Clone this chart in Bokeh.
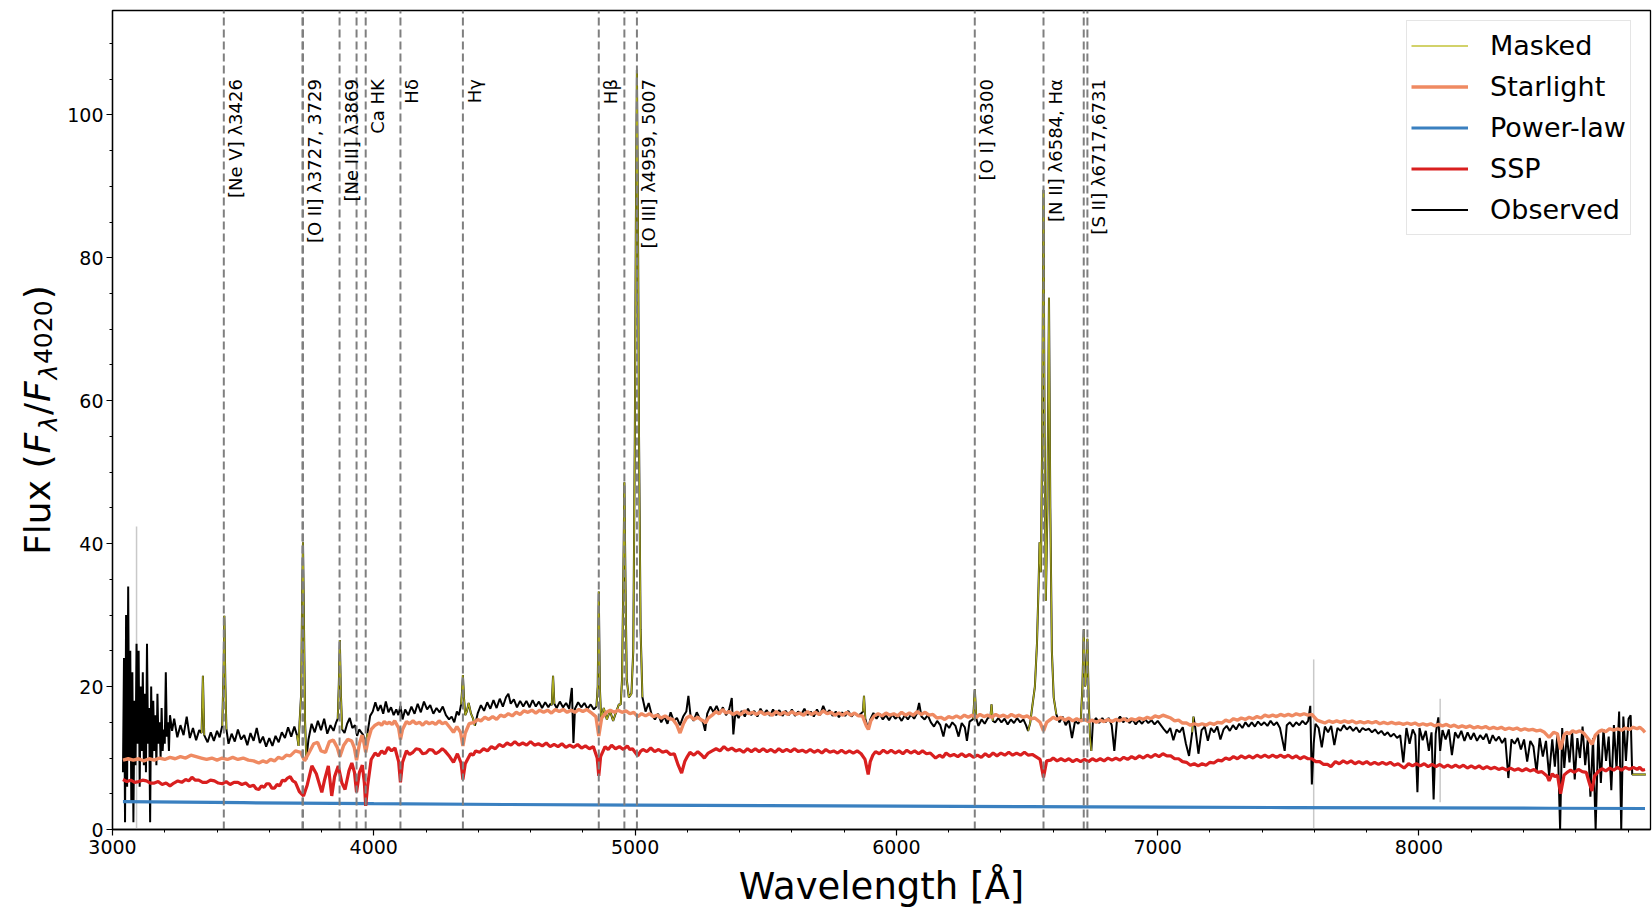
import math
from bokeh.plotting import figure
from bokeh.layouts import row
from bokeh.models import (ColumnDataSource, Legend, LegendItem, SingleIntervalTicker, Range1d)
from bokeh.core.properties import value
from bokeh.embed import file_html
from bokeh.resources import INLINE

# ---------------- data ----------------
observed = [
    (3040, 8.0), (3044, 24.0), (3048, 1.0), (3052, 30.0), (3056, 6.0), (3060, 34.0), (3064, 10.0),
    (3068, 25.0), (3072, 4.0), (3076, 22.0), (3080, 1.0), (3084, 18.0), (3088, 9.0), (3092, 26.0),
    (3096, 12.0), (3100, 25.0), (3104, 6.0), (3108, 20.0), (3112, 11.0), (3116, 22.0), (3120, 9.0),
    (3124, 19.0), (3128, 8.0), (3132, 26.0), (3136, 12.0), (3140, 17.0), (3144, 1.0), (3148, 20.0),
    (3152, 10.0), (3156, 18.0), (3160, 11.0), (3164, 16.0), (3168, 9.0), (3172, 19.0), (3176, 12.0),
    (3180, 15.0), (3184, 10.0), (3188, 17.0), (3192, 11.0), (3196, 14.0), (3200, 12.0), (3204, 22.0),
    (3208, 13.0), (3212, 15.0), (3216, 11.0), (3220, 16.0),
    (3228, 13.8), (3236, 15.5), (3248, 12.9), (3260, 14.6), (3272, 13.2), (3284, 15.8), (3296, 12.8),
    (3308, 14.2), (3320, 12.5), (3332, 13.9), (3341, 13.5), (3346, 21.5), (3351, 13.2), (3364, 12.2),
    (3376, 13.6), (3388, 12.4), (3400, 13.8), (3410, 12.9), (3420, 14.5), (3425, 22.0), (3428, 29.9),
    (3432, 20.0), (3436, 14.0), (3444, 12.0), (3456, 13.4), (3468, 12.3), (3480, 14.0), (3492, 12.6),
    (3504, 13.2), (3516, 11.8), (3528, 13.5), (3540, 12.4), (3552, 14.2), (3564, 12.1), (3576, 13.0),
    (3588, 11.6), (3600, 12.8), (3612, 11.7), (3624, 13.1), (3636, 12.2), (3648, 13.6), (3660, 12.8),
    (3672, 14.3), (3684, 13.0), (3696, 14.4), (3706, 13.2), (3712, 11.7), (3716, 15.0), (3722, 19.0),
    (3726, 33.0), (3729, 40.2), (3733, 28.0), (3737, 15.0), (3742, 9.8), (3750, 12.6), (3762, 14.8),
    (3774, 13.6), (3786, 15.2), (3798, 13.9), (3810, 15.5), (3822, 13.4), (3834, 14.6), (3846, 13.8),
    (3856, 15.0), (3862, 15.5), (3866, 20.0), (3870, 26.5), (3874, 19.0), (3879, 14.0), (3888, 13.5),
    (3898, 14.8), (3908, 15.6), (3918, 14.2), (3928, 14.6), (3936, 13.1), (3944, 14.0), (3952, 13.6),
    (3960, 13.2), (3968, 11.7), (3976, 13.5), (3986, 15.9), (3996, 16.5), (4006, 17.8), (4016, 16.6),
    (4026, 17.4), (4036, 16.2), (4046, 17.9), (4056, 16.4), (4066, 17.1), (4076, 16.0), (4086, 16.8),
    (4094, 16.0), (4102, 17.3), (4110, 15.4), (4120, 16.8), (4132, 16.0), (4144, 17.2), (4156, 16.2),
    (4168, 17.6), (4180, 16.4), (4192, 17.9), (4204, 16.8), (4216, 17.4), (4228, 16.2), (4240, 17.0),
    (4252, 16.4), (4264, 17.2), (4276, 16.0), (4288, 15.4), (4298, 15.8), (4308, 15.0), (4318, 16.5),
    (4326, 16.0), (4334, 17.5), (4338, 19.5), (4341, 21.6), (4345, 18.5), (4350, 16.0), (4356, 16.5),
    (4363, 17.7), (4372, 16.2), (4380, 15.5), (4387, 14.5), (4398, 16.3), (4410, 17.4), (4422, 16.6),
    (4434, 17.8), (4446, 16.9), (4458, 18.1), (4470, 17.0), (4482, 18.3), (4494, 17.2), (4506, 18.5),
    (4515, 19.0), (4524, 17.6), (4536, 18.2), (4548, 17.1), (4560, 18.0), (4572, 17.2), (4584, 18.0),
    (4596, 17.1), (4608, 18.1), (4620, 17.2), (4632, 17.9), (4644, 17.0), (4656, 17.8), (4668, 17.1),
    (4676, 17.6), (4681, 17.4), (4686, 21.5), (4691, 17.6), (4700, 17.0), (4712, 17.9), (4724, 17.1),
    (4736, 17.7), (4748, 16.9), (4758, 19.8), (4764, 12.1), (4770, 16.9), (4782, 17.8), (4794, 17.1),
    (4806, 17.7), (4818, 16.9), (4830, 17.5), (4842, 16.8), (4852, 17.2), (4857, 20.0), (4861, 33.3),
    (4865, 20.0), (4870, 15.5), (4880, 17.0), (4892, 15.4), (4904, 16.6), (4916, 15.2), (4928, 16.5),
    (4938, 17.5), (4945, 17.5), (4950, 21.0), (4955, 35.0), (4959, 48.6), (4963, 35.0), (4968, 21.0),
    (4976, 18.5), (4986, 19.0), (4993, 25.0), (4999, 55.0), (5003, 85.0), (5007, 106.3), (5011, 85.0),
    (5015, 55.0), (5021, 28.0), (5028, 18.5), (5040, 16.5), (5052, 17.7), (5064, 16.0), (5076, 15.4),
    (5088, 16.2), (5100, 15.0), (5112, 15.8), (5124, 14.8), (5136, 16.4), (5148, 15.2), (5160, 15.6),
    (5172, 14.6), (5184, 15.8), (5196, 16.5), (5204, 18.7), (5212, 16.0), (5224, 15.2), (5236, 16.4),
    (5248, 15.5), (5260, 15.0), (5268, 13.8), (5276, 16.2), (5288, 17.2), (5300, 16.4), (5312, 17.3),
    (5324, 16.2), (5336, 17.1), (5348, 16.0), (5360, 16.8), (5370, 18.4), (5376, 13.3), (5384, 16.4),
    (5396, 15.6), (5408, 16.6), (5420, 15.8), (5432, 16.9), (5444, 16.0), (5456, 16.6), (5468, 15.8),
    (5480, 16.9), (5492, 16.1), (5504, 16.7), (5516, 15.9), (5528, 16.8), (5540, 16.0), (5552, 16.7),
    (5564, 15.9), (5576, 16.6), (5588, 16.0), (5600, 16.8), (5612, 15.9), (5624, 16.5), (5636, 16.1),
    (5648, 16.9), (5660, 16.0), (5672, 16.5), (5684, 15.8), (5696, 16.8), (5708, 16.0), (5720, 17.3),
    (5732, 16.2), (5744, 16.7), (5756, 15.9), (5768, 16.5), (5780, 15.7), (5792, 16.4), (5804, 15.9),
    (5816, 16.6), (5828, 15.8), (5840, 16.3), (5852, 15.9), (5864, 16.2), (5872, 16.5), (5876, 18.7),
    (5881, 15.5), (5892, 14.0), (5900, 15.4), (5912, 16.3), (5924, 15.5), (5936, 16.2), (5948, 15.4),
    (5960, 16.0), (5972, 15.3), (5984, 16.1), (5996, 15.5), (6008, 15.9), (6020, 15.2), (6032, 16.0),
    (6044, 15.4), (6056, 16.1), (6068, 15.5), (6078, 16.2), (6087, 17.7), (6096, 15.8), (6108, 15.4),
    (6120, 16.0), (6132, 15.0), (6144, 14.4), (6156, 15.2), (6168, 14.6), (6180, 13.0), (6190, 14.8),
    (6202, 14.2), (6214, 15.0), (6226, 14.5), (6238, 13.0), (6250, 14.9), (6262, 14.3), (6270, 12.4),
    (6280, 15.1), (6288, 15.3), (6294, 15.5), (6300, 19.6), (6306, 15.5), (6314, 14.5), (6326, 15.4),
    (6338, 14.8), (6350, 15.6), (6360, 15.8), (6364, 17.5), (6369, 15.2), (6378, 15.0), (6390, 15.6),
    (6402, 15.0), (6414, 15.5), (6426, 14.7), (6438, 15.4), (6450, 14.9), (6462, 15.6), (6474, 15.0),
    (6486, 15.4), (6496, 14.6), (6504, 13.8), (6512, 14.9), (6520, 17.2), (6530, 20.0), (6538, 26.0),
    (6544, 34.0), (6548, 40.2), (6553, 36.0), (6558, 55.0), (6563, 89.5), (6567, 55.0), (6572, 32.0),
    (6578, 45.0), (6584, 74.4), (6589, 45.0), (6595, 25.0), (6602, 18.5), (6612, 16.1), (6624, 15.0),
    (6636, 15.8), (6648, 14.6), (6660, 15.4), (6672, 12.8), (6684, 15.2), (6696, 14.8), (6706, 15.5),
    (6712, 20.0), (6717, 28.0), (6722, 20.0), (6726, 21.0), (6731, 26.7), (6736, 18.0), (6741, 13.0),
    (6746, 11.0), (6752, 15.0), (6764, 15.6), (6776, 14.9), (6788, 15.6), (6800, 15.0), (6812, 15.6),
    (6824, 14.6), (6834, 11.0), (6844, 15.2), (6856, 15.8), (6868, 15.0), (6880, 15.6), (6892, 14.9),
    (6904, 15.4), (6916, 14.7), (6928, 15.3), (6940, 14.8), (6952, 15.4), (6964, 14.9), (6976, 15.3),
    (6988, 14.7), (7000, 15.2), (7012, 14.6), (7024, 14.0), (7036, 13.5), (7048, 14.2), (7060, 12.5),
    (7072, 14.0), (7084, 13.6), (7096, 14.3), (7108, 12.0), (7120, 10.3), (7132, 13.6), (7137, 15.8),
    (7144, 14.2), (7156, 10.6), (7168, 13.9), (7180, 14.4), (7192, 12.4), (7204, 14.2), (7216, 13.6),
    (7228, 14.4), (7240, 12.6), (7252, 14.0), (7264, 14.5), (7276, 13.8), (7288, 14.6), (7300, 14.0),
    (7312, 14.8), (7324, 14.2), (7336, 15.0), (7348, 14.4), (7360, 15.0), (7372, 14.4), (7384, 15.1),
    (7396, 14.6), (7408, 15.0), (7420, 14.5), (7432, 15.2), (7444, 14.6), (7456, 15.0), (7468, 14.2),
    (7478, 12.4), (7486, 11.0), (7494, 14.6), (7506, 15.0), (7518, 14.4), (7530, 15.0), (7542, 14.6),
    (7554, 15.2), (7566, 14.7), (7576, 15.2), (7584, 17.3), (7590, 6.3), (7597, 12.0), (7604, 14.8),
    (7616, 14.2), (7628, 11.5), (7640, 14.4), (7652, 13.6), (7664, 14.5), (7676, 11.8), (7688, 14.2),
    (7700, 13.8), (7712, 14.6), (7724, 14.0), (7736, 14.4), (7748, 13.8), (7760, 14.3), (7772, 13.6),
    (7784, 14.2), (7796, 13.9), (7808, 14.1), (7820, 13.6), (7832, 14.0), (7844, 13.4), (7856, 13.8),
    (7868, 13.2), (7880, 13.6), (7892, 13.0), (7904, 13.4), (7916, 12.8), (7928, 13.2), (7940, 9.4),
    (7952, 14.2), (7964, 12.0), (7976, 14.0), (7986, 13.2), (7994, 5.2), (8002, 14.2), (8014, 12.5),
    (8026, 13.8), (8038, 11.0), (8048, 13.6), (8056, 4.2), (8064, 13.4), (8074, 15.7), (8081, 11.0),
    (8090, 13.9), (8102, 12.6), (8114, 14.0), (8126, 10.4), (8138, 13.6), (8150, 12.8), (8162, 13.8),
    (8174, 12.4), (8186, 13.6), (8198, 12.6), (8210, 13.5), (8222, 12.4), (8234, 13.2), (8246, 12.6),
    (8258, 13.4), (8270, 12.0), (8282, 13.2), (8294, 12.4), (8306, 13.0), (8318, 12.1), (8330, 12.8),
    (8342, 7.2), (8354, 12.6), (8366, 12.0), (8378, 12.8), (8390, 11.2), (8402, 12.6), (8414, 9.5),
    (8426, 12.4), (8438, 11.6), (8450, 8.0), (8462, 12.8), (8474, 10.2), (8486, 12.4), (8498, 7.5),
    (8510, 12.6), (8520, 8.8), (8530, 13.5), (8540, 0.0), (8548, 14.2), (8556, 8.6), (8566, 13.2),
    (8576, 9.4), (8586, 13.8), (8596, 7.0), (8606, 12.8), (8616, 10.0), (8626, 14.4), (8636, 9.0),
    (8646, 12.6), (8656, 4.6), (8666, 12.8), (8676, 0.0), (8686, 13.4), (8696, 6.5), (8706, 14.0),
    (8716, 9.6), (8726, 13.0), (8736, 5.5), (8746, 14.6), (8756, 8.4), (8766, 16.5), (8774, 0.0),
    (8782, 15.8), (8792, 9.6), (8802, 15.5), (8810, 16.0), (8816, 7.7), (8868, 7.7),
]

starlight = [
    (3040, 9.7), (3060, 9.9), (3080, 9.7), (3100, 9.9), (3120, 9.6), (3140, 9.9), (3160, 9.7),
    (3180, 10.0), (3200, 9.8), (3220, 10.1), (3240, 9.9), (3260, 10.2), (3280, 10.0), (3300, 10.4),
    (3320, 10.2), (3340, 10.0), (3360, 9.8), (3380, 10.0), (3400, 9.7), (3420, 10.0), (3440, 9.8),
    (3460, 10.1), (3480, 9.8), (3500, 10.0), (3520, 9.7), (3540, 9.6), (3560, 9.3), (3575, 9.6),
    (3590, 9.4), (3605, 9.8), (3620, 9.6), (3635, 10.1), (3650, 9.9), (3665, 10.4), (3680, 10.3),
    (3700, 11.0), (3720, 10.8), (3735, 9.6), (3750, 10.6), (3770, 12.0), (3785, 12.2), (3798, 11.0),
    (3815, 10.8), (3830, 12.3), (3845, 12.5), (3860, 11.5), (3870, 10.2), (3885, 11.8), (3900, 12.6),
    (3915, 12.4), (3925, 11.5), (3934, 9.7), (3945, 12.0), (3955, 13.2), (3962, 12.2), (3969, 10.8),
    (3978, 12.5), (3990, 14.0), (4005, 14.6), (4020, 14.9), (4030, 14.6), (4040, 15.1), (4050, 14.8),
    (4060, 15.0), (4070, 14.7), (4080, 15.2), (4095, 14.2), (4102, 12.6), (4110, 14.0), (4125, 15.1),
    (4137, 14.8), (4150, 15.2), (4162, 14.8), (4175, 15.0), (4187, 14.6), (4200, 15.1), (4212, 14.8),
    (4225, 15.0), (4237, 14.7), (4250, 15.2), (4262, 14.8), (4275, 15.0), (4295, 14.1), (4305, 13.6),
    (4318, 14.4), (4332, 13.6), (4341, 11.7), (4350, 13.5), (4365, 14.8), (4385, 15.0), (4398, 15.4),
    (4410, 15.2), (4425, 15.7), (4440, 15.4), (4455, 15.8), (4470, 15.4), (4485, 16.0), (4500, 15.8),
    (4515, 16.2), (4530, 15.9), (4545, 16.4), (4560, 16.1), (4575, 16.6), (4590, 16.4), (4605, 16.7),
    (4620, 16.3), (4635, 16.7), (4650, 16.4), (4665, 16.7), (4680, 16.3), (4695, 16.8), (4710, 16.5),
    (4725, 16.8), (4740, 16.4), (4755, 16.7), (4770, 16.4), (4785, 16.8), (4800, 16.5), (4815, 16.8),
    (4830, 16.4), (4850, 15.8), (4861, 13.1), (4872, 15.6), (4890, 16.4), (4905, 16.7), (4920, 16.4),
    (4935, 16.7), (4950, 16.4), (4965, 16.6), (4980, 16.2), (4995, 16.4), (5010, 15.8), (5025, 16.2),
    (5040, 15.9), (5055, 16.2), (5070, 15.8), (5085, 16.0), (5100, 15.6), (5115, 15.9), (5130, 15.5),
    (5145, 15.4), (5160, 14.6), (5172, 13.5), (5185, 14.8), (5197, 15.6), (5210, 15.9), (5225, 15.4),
    (5240, 15.7), (5255, 15.3), (5262, 15.2), (5270, 14.9), (5280, 15.6), (5295, 16.0), (5310, 16.5),
    (5322, 16.2), (5335, 16.8), (5347, 16.3), (5360, 16.5), (5375, 16.1), (5390, 16.4), (5405, 16.1),
    (5420, 16.6), (5435, 16.2), (5450, 16.4), (5465, 16.1), (5480, 16.5), (5495, 16.1), (5510, 16.3),
    (5525, 16.0), (5540, 16.5), (5555, 16.1), (5570, 16.4), (5585, 16.1), (5600, 16.5), (5615, 16.1),
    (5630, 16.3), (5645, 16.0), (5660, 16.5), (5675, 16.1), (5690, 16.4), (5705, 16.1), (5720, 16.6),
    (5735, 16.2), (5750, 16.4), (5765, 16.0), (5780, 16.3), (5795, 16.0), (5810, 16.4), (5825, 16.0),
    (5840, 16.3), (5855, 15.9), (5870, 15.9), (5885, 14.5), (5893, 14.0), (5902, 15.2), (5915, 15.9),
    (5930, 16.2), (5945, 15.9), (5960, 16.3), (5975, 16.0), (5990, 16.2), (6005, 15.9), (6020, 16.4),
    (6035, 16.0), (6050, 16.3), (6065, 16.0), (6080, 16.5), (6095, 16.1), (6110, 16.4), (6125, 16.0),
    (6140, 16.1), (6155, 15.6), (6170, 15.7), (6185, 15.4), (6200, 15.8), (6215, 15.6), (6230, 15.9),
    (6245, 15.6), (6260, 16.0), (6275, 15.7), (6290, 16.0), (6305, 15.7), (6320, 16.1), (6335, 15.8),
    (6350, 16.0), (6365, 15.7), (6380, 16.1), (6395, 15.8), (6410, 16.0), (6425, 15.7), (6440, 16.1),
    (6455, 15.8), (6470, 16.0), (6485, 15.7), (6500, 15.9), (6515, 15.5), (6530, 15.6), (6550, 15.0),
    (6563, 13.8), (6575, 15.0), (6590, 15.4), (6600, 15.7), (6615, 15.4), (6630, 15.7), (6645, 15.3),
    (6660, 15.6), (6675, 15.2), (6690, 15.5), (6705, 15.2), (6720, 15.4), (6735, 15.1), (6750, 15.3),
    (6765, 15.0), (6780, 15.3), (6795, 15.1), (6810, 15.4), (6825, 15.1), (6840, 15.4), (6855, 15.2),
    (6870, 15.5), (6885, 15.2), (6900, 15.5), (6915, 15.3), (6930, 15.6), (6945, 15.4), (6960, 15.7),
    (6975, 15.5), (6990, 15.9), (7005, 15.7), (7020, 16.0), (7035, 15.8), (7050, 15.6), (7065, 15.2),
    (7080, 15.3), (7095, 14.9), (7110, 14.9), (7125, 14.6), (7140, 14.8), (7155, 14.6), (7170, 14.8),
    (7185, 14.6), (7200, 14.9), (7215, 14.7), (7230, 15.0), (7245, 14.9), (7260, 15.3), (7275, 15.1),
    (7290, 15.5), (7305, 15.3), (7320, 15.6), (7335, 15.4), (7350, 15.7), (7365, 15.5), (7380, 15.8),
    (7395, 15.6), (7410, 16.0), (7425, 15.8), (7440, 16.0), (7455, 15.8), (7470, 16.1), (7485, 15.9),
    (7500, 16.1), (7515, 15.9), (7530, 16.2), (7545, 16.0), (7560, 16.2), (7575, 16.0), (7590, 16.1),
    (7610, 15.3), (7625, 15.1), (7640, 14.9), (7655, 15.2), (7670, 15.0), (7685, 15.2), (7700, 15.0),
    (7715, 15.2), (7730, 15.0), (7745, 15.2), (7760, 14.9), (7775, 15.1), (7790, 14.9), (7805, 15.1),
    (7820, 14.9), (7835, 15.1), (7850, 14.8), (7865, 15.0), (7880, 14.8), (7895, 15.0), (7910, 14.8),
    (7925, 14.9), (7940, 14.7), (7955, 14.9), (7970, 14.7), (7985, 14.9), (8000, 14.6), (8015, 14.8),
    (8030, 14.6), (8045, 14.8), (8060, 14.5), (8075, 14.7), (8090, 14.5), (8105, 14.7), (8120, 14.4),
    (8135, 14.6), (8150, 14.3), (8165, 14.5), (8180, 14.3), (8195, 14.5), (8210, 14.2), (8225, 14.4),
    (8240, 14.2), (8255, 14.4), (8270, 14.1), (8285, 14.3), (8300, 14.1), (8315, 14.3), (8330, 14.0),
    (8345, 14.2), (8360, 14.0), (8375, 14.2), (8390, 13.9), (8405, 14.1), (8420, 13.9), (8435, 14.0),
    (8450, 13.8), (8465, 13.9), (8480, 13.6), (8498, 12.9), (8515, 13.6), (8530, 13.4), (8542, 11.2),
    (8555, 13.2), (8565, 13.6), (8575, 13.4), (8588, 13.8), (8600, 13.6), (8615, 13.8), (8630, 13.5),
    (8650, 12.6), (8662, 11.9), (8675, 13.2), (8688, 13.7), (8700, 13.9), (8715, 13.7), (8730, 14.1),
    (8745, 13.9), (8760, 14.1), (8775, 13.9), (8790, 14.2), (8805, 14.0), (8820, 14.3), (8835, 14.1),
    (8845, 14.3), (8855, 14.0), (8865, 13.6),
]

ssp = [
    (3040, 7.0), (3055, 6.7), (3070, 6.9), (3085, 6.6), (3100, 6.7), (3115, 6.9), (3130, 6.8),
    (3145, 6.5), (3160, 6.5), (3175, 6.7), (3190, 6.3), (3205, 6.5), (3220, 6.1), (3235, 6.5),
    (3250, 6.8), (3265, 6.6), (3280, 7.0), (3292, 6.8), (3304, 7.3), (3317, 6.9), (3330, 6.9),
    (3345, 6.6), (3360, 6.6), (3375, 6.9), (3390, 6.8), (3405, 6.5), (3420, 6.4), (3435, 6.7),
    (3450, 6.3), (3465, 6.6), (3480, 6.6), (3495, 6.3), (3510, 6.5), (3525, 6.0), (3540, 6.2),
    (3550, 5.7), (3560, 5.6), (3570, 6.1), (3580, 5.9), (3590, 6.4), (3600, 6.4), (3610, 5.8),
    (3620, 5.8), (3630, 6.3), (3640, 6.1), (3650, 6.9), (3660, 6.8), (3670, 7.2), (3680, 7.4),
    (3690, 6.8), (3700, 6.6), (3715, 5.3), (3731, 4.7), (3745, 6.2), (3763, 8.9), (3780, 7.8),
    (3801, 5.2), (3812, 7.0), (3826, 8.9), (3839, 4.7), (3850, 7.4), (3864, 8.9), (3878, 6.5),
    (3890, 5.6), (3905, 8.2), (3916, 9.3), (3926, 8.0), (3934, 5.2), (3945, 8.0), (3956, 9.0),
    (3964, 6.5), (3969, 3.3), (3976, 6.0), (3990, 9.8), (4005, 10.7), (4017, 10.3), (4030, 11.0),
    (4042, 10.6), (4055, 11.5), (4068, 11.0), (4081, 11.4), (4095, 9.5), (4102, 6.6), (4110, 9.4),
    (4125, 11.0), (4137, 10.5), (4150, 10.8), (4162, 11.3), (4175, 11.2), (4187, 10.6), (4200, 10.7),
    (4212, 11.2), (4225, 11.1), (4237, 10.6), (4250, 10.9), (4262, 11.3), (4272, 11.0), (4290, 10.2),
    (4305, 9.4), (4320, 10.6), (4334, 9.3), (4341, 7.0), (4350, 9.2), (4370, 10.6), (4380, 10.4),
    (4390, 11.0), (4405, 10.8), (4420, 11.3), (4435, 11.0), (4450, 11.6), (4465, 11.3), (4480, 11.9),
    (4495, 11.6), (4510, 12.1), (4525, 11.8), (4540, 12.3), (4555, 11.8), (4570, 12.1), (4585, 11.8),
    (4600, 12.3), (4615, 11.8), (4630, 12.0), (4645, 11.7), (4660, 12.1), (4675, 11.6), (4690, 11.9),
    (4705, 11.6), (4720, 12.0), (4735, 11.5), (4750, 11.8), (4765, 11.5), (4780, 11.9), (4795, 11.4),
    (4810, 11.7), (4825, 11.3), (4840, 11.6), (4855, 10.0), (4861, 7.5), (4868, 10.2), (4885, 11.6),
    (4897, 11.2), (4910, 11.8), (4925, 11.3), (4940, 11.6), (4955, 11.2), (4970, 11.7), (4980, 11.2),
    (4990, 11.3), (5000, 10.8), (5010, 10.3), (5020, 10.9), (5030, 11.2), (5045, 10.9), (5060, 11.4),
    (5075, 10.9), (5090, 11.2), (5105, 10.8), (5120, 11.0), (5135, 10.5), (5150, 10.6), (5165, 9.0),
    (5178, 7.9), (5190, 9.5), (5200, 10.2), (5210, 10.8), (5225, 10.4), (5240, 10.9), (5252, 10.5),
    (5265, 10.0), (5280, 10.7), (5295, 11.0), (5310, 11.3), (5325, 11.0), (5340, 11.6), (5355, 11.1),
    (5370, 11.4), (5385, 11.0), (5400, 11.2), (5415, 10.8), (5430, 11.3), (5445, 10.9), (5460, 11.3),
    (5475, 10.9), (5490, 11.3), (5505, 10.9), (5520, 11.2), (5535, 10.8), (5550, 11.3), (5565, 10.9),
    (5580, 11.2), (5595, 10.9), (5610, 11.3), (5625, 10.9), (5640, 11.1), (5655, 10.8), (5670, 11.2),
    (5685, 10.8), (5700, 11.1), (5715, 10.7), (5730, 11.2), (5745, 10.8), (5760, 11.0), (5775, 10.7),
    (5790, 11.1), (5805, 10.7), (5820, 11.0), (5835, 10.7), (5850, 11.0), (5865, 10.6), (5880, 9.8),
    (5892, 7.7), (5900, 9.5), (5910, 10.4), (5920, 10.9), (5935, 10.6), (5950, 11.1), (5965, 10.7),
    (5980, 11.1), (5995, 10.7), (6010, 11.0), (6025, 10.6), (6040, 11.1), (6055, 10.7), (6070, 11.0),
    (6085, 10.6), (6100, 11.0), (6115, 10.6), (6130, 10.7), (6150, 10.0), (6165, 10.4), (6178, 10.1),
    (6190, 10.7), (6205, 10.3), (6220, 10.5), (6235, 10.2), (6250, 10.6), (6265, 10.2), (6280, 10.5),
    (6295, 10.1), (6310, 10.4), (6325, 10.1), (6340, 10.6), (6355, 10.2), (6370, 10.7), (6385, 10.3),
    (6400, 10.7), (6415, 10.4), (6430, 10.8), (6445, 10.4), (6460, 10.7), (6475, 10.4), (6490, 10.8),
    (6505, 10.4), (6520, 10.5), (6550, 9.8), (6563, 7.3), (6575, 9.6), (6590, 9.7), (6600, 10.0),
    (6615, 9.6), (6630, 9.9), (6645, 9.6), (6660, 9.9), (6675, 9.5), (6690, 9.8), (6705, 9.5),
    (6720, 9.8), (6735, 9.5), (6750, 9.9), (6765, 9.6), (6780, 9.9), (6795, 9.6), (6810, 10.0),
    (6825, 9.7), (6840, 10.0), (6855, 9.7), (6870, 10.1), (6885, 9.8), (6900, 10.2), (6915, 9.9),
    (6930, 10.3), (6945, 10.0), (6960, 10.4), (6975, 10.1), (6990, 10.5), (7005, 10.2), (7020, 10.6),
    (7035, 10.3), (7050, 10.3), (7065, 9.9), (7080, 9.9), (7095, 9.5), (7110, 9.4), (7125, 9.0),
    (7140, 9.2), (7155, 8.9), (7170, 9.2), (7185, 9.0), (7200, 9.4), (7215, 9.3), (7230, 9.7),
    (7245, 9.6), (7260, 10.0), (7275, 9.8), (7290, 10.2), (7305, 9.9), (7320, 10.3), (7335, 10.0),
    (7350, 10.3), (7365, 10.0), (7380, 10.4), (7395, 10.1), (7410, 10.4), (7425, 10.1), (7440, 10.4),
    (7455, 10.1), (7470, 10.4), (7485, 10.1), (7500, 10.4), (7515, 10.0), (7530, 10.3), (7545, 9.9),
    (7560, 10.2), (7575, 9.9), (7590, 9.9), (7605, 9.5), (7620, 9.5), (7635, 9.1), (7650, 9.1),
    (7663, 8.8), (7680, 9.5), (7695, 9.2), (7710, 9.6), (7725, 9.3), (7740, 9.6), (7755, 9.2),
    (7770, 9.5), (7785, 9.2), (7800, 9.5), (7815, 9.1), (7830, 9.4), (7845, 9.1), (7860, 9.4),
    (7875, 9.1), (7890, 9.4), (7905, 9.0), (7920, 9.2), (7943, 8.6), (7960, 9.2), (7975, 8.9),
    (7990, 9.2), (8005, 8.9), (8020, 9.2), (8035, 8.8), (8050, 9.1), (8065, 8.8), (8080, 9.1),
    (8095, 8.7), (8110, 9.0), (8125, 8.7), (8140, 9.0), (8155, 8.7), (8170, 9.0), (8185, 8.6),
    (8200, 8.9), (8215, 8.6), (8230, 8.9), (8245, 8.5), (8260, 8.8), (8275, 8.5), (8290, 8.7),
    (8305, 8.4), (8320, 8.6), (8335, 8.3), (8350, 8.6), (8365, 8.3), (8380, 8.5), (8395, 8.2),
    (8410, 8.5), (8425, 8.2), (8440, 8.4), (8455, 8.0), (8470, 8.1), (8490, 7.5), (8498, 6.8),
    (8510, 7.8), (8520, 7.4), (8530, 7.6), (8542, 5.0), (8555, 7.6), (8567, 8.0), (8580, 8.3),
    (8595, 8.0), (8610, 8.4), (8625, 8.1), (8640, 8.0), (8652, 6.5), (8662, 5.4), (8672, 7.5),
    (8686, 8.1), (8700, 8.5), (8715, 8.2), (8730, 8.6), (8745, 8.3), (8760, 8.7), (8775, 8.3),
    (8790, 8.7), (8805, 8.4), (8820, 8.7), (8835, 8.4), (8845, 8.7), (8855, 8.3), (8865, 8.4),
]

power_law = [
    (3040, 3.9), (3500, 3.75), (4000, 3.62), (4500, 3.5), (5000, 3.42), (5500, 3.34), (6000, 3.27),
    (6500, 3.2), (7000, 3.13), (7500, 3.07), (8000, 3.02), (8500, 2.97), (8865, 2.94),
]

# wavelength windows shown as "Masked"
masked_windows = [
    (3339, 3353), (3418, 3438), (3704, 3746), (3860, 3880), (3962, 3978), (4098, 4108),
    (4330, 4392), (4679, 4693), (4848, 5030), (5870, 5884), (6083, 6092), (6290, 6310),
    (6358, 6370), (6500, 6615), (6702, 6750), (7132, 7140), (8816, 8868),
]

# large error bars on the observed spectrum
err_wave = [3092, 7597, 8081]
err_low = [0.0, 0.0, 3.8]
err_high = [42.4, 23.8, 18.3]

# emission / absorption line markers
line_waves = [3426, 3727, 3729, 3869, 3934, 3969, 4102, 4341, 4861, 4959, 5007,
              6300, 6563, 6717, 6731]
label_waves = [3426, 3729, 3869, 3969, 4102, 4341, 4861, 5007, 6300, 6563, 6731]
label_texts = ["[Ne V] λ3426", "[O II] λ3727, 3729", "[Ne III] λ3869", "Ca HK", "Hδ", "Hγ",
               "Hβ", "[O III] λ4959, 5007", "[O I] λ6300", "[N II] λ6584, Hα",
               "[S II] λ6717,6731"]

# y-axis label, composed of pieces (sub-scripts are smaller and shifted)
ylab_text = ["Flux (", "F", "λ", "/", "F", "λ", "4020", ")"]
ylab_size = ["36px", "36px", "25px", "36px", "36px", "25px", "25px", "36px"]
ylab_style = ["normal", "italic", "italic", "normal", "italic", "italic", "normal", "normal"]

X_MIN, X_MAX = 3000, 8886
Y_MIN, Y_MAX = 0, 114.6
LABEL_TOP = 105.0

# ---------------- geometry ----------------
FONT = "DejaVu Sans"
W, H = 1652, 910
SIDE_W = 64
FL, FR, FT, FB = 111 - SIDE_W, 2, 10, 80

# ---------------- main figure ----------------
p = figure(width=W - SIDE_W, height=H, x_range=Range1d(X_MIN, X_MAX),
           y_range=Range1d(Y_MIN, Y_MAX), output_backend="svg", toolbar_location=None,
           min_border_left=FL, min_border_right=FR, min_border_top=FT, min_border_bottom=FB)
p.grid.visible = False
p.background_fill_color = "white"
p.border_fill_color = "white"
p.outline_line_color = "black"
p.outline_line_width = 1.3

p.xaxis.ticker = SingleIntervalTicker(interval=1000, num_minor_ticks=5)
p.yaxis.ticker = SingleIntervalTicker(interval=20, num_minor_ticks=4)
for ax in (p.xaxis[0], p.yaxis[0]):
    ax.axis_line_color = "black"
    ax.axis_line_width = 1.3
    ax.major_tick_line_color = "black"
    ax.minor_tick_line_color = "black"
    ax.major_tick_line_width = 1.2
    ax.minor_tick_line_width = 1.0
    ax.major_tick_in = 0
    ax.major_tick_out = 6
    ax.minor_tick_in = 0
    ax.minor_tick_out = 3
    ax.major_label_text_font = FONT
    ax.major_label_text_font_size = "19px"
    ax.major_label_text_color = "black"
    ax.major_label_standoff = 3
p.xaxis.major_label_standoff = 4

p.xaxis.axis_label = "Wavelength [Å]"
p.xaxis.axis_label_text_font = FONT
p.xaxis.axis_label_text_font_size = "37px"
p.xaxis.axis_label_text_font_style = "normal"
p.xaxis.axis_label_text_color = "black"
p.xaxis.axis_label_standoff = 8

ow = [w for w, f in observed]
of = [f for w, f in observed]

# error bars (drawn first)
err_mid = [(lo + hi) / 2 for lo, hi in zip(err_low, err_high)]
esrc = ColumnDataSource(dict(x=err_wave, lo=err_low, hi=err_high, mid=err_mid))
p.segment(x0="x", y0="lo", x1="x", y1="hi", source=esrc, line_color="#c9c9c9", line_width=1.5)
r_errtick = p.scatter(x="x", y="mid", source=esrc, marker="dash", angle=math.pi / 2, size=24,
                      line_color="#c9c9c9", line_width=1.5)

r_obs = p.line(ow, of, line_color="black", line_width=2.0)

mx, my = [], []
for a, b in masked_windows:
    seg = [(w, f) for w, f in observed if a <= w <= b]
    if len(seg) >= 2:
        mx.append([w for w, f in seg])
        my.append([f for w, f in seg])
r_mask = p.multi_line(mx, my, line_color="#bcbd22", line_width=1.4, line_alpha=0.9)

r_star = p.line([w for w, f in starlight], [f for w, f in starlight],
                line_color="#ef8a62", line_width=3.4)
r_pl = p.line([w for w, f in power_law], [f for w, f in power_law],
              line_color="#3a80c0", line_width=3.2)
r_ssp = p.line([w for w, f in ssp], [f for w, f in ssp], line_color="#d91f1f", line_width=3.2)

# dashed vertical line markers
vsrc = ColumnDataSource(dict(x=line_waves, y0=[Y_MIN] * len(line_waves),
                             y1=[Y_MAX] * len(line_waves)))
p.segment(x0="x", y0="y0", x1="x", y1="y1", source=vsrc, line_color="#7f7f7f",
          line_width=2.0, line_dash="8 4")

tsrc = ColumnDataSource(dict(x=label_waves, y=[LABEL_TOP] * len(label_waves), t=label_texts))
p.text(x="x", y="y", text="t", source=tsrc, angle=math.pi / 2, text_align="right",
       text_baseline="top", text_font=value(FONT), text_font_size=value("18px"),
       text_color="black", x_offset=1)

# ---------------- legend ----------------
legend = Legend(items=[
    LegendItem(label="Masked", renderers=[r_mask]),
    LegendItem(label="Starlight", renderers=[r_star]),
    LegendItem(label="Power-law", renderers=[r_pl]),
    LegendItem(label="SSP", renderers=[r_ssp]),
    LegendItem(label="Observed", renderers=[r_errtick, r_obs]),
], location=(1294, 594))
legend.label_text_font = FONT
legend.label_text_font_size = "27px"
legend.label_text_color = "black"
legend.glyph_width = 57
legend.glyph_height = 41
legend.label_height = 41
legend.spacing = 0
legend.padding = 4
legend.margin = 0
legend.label_standoff = 22
legend.border_line_color = "#cccccc"
legend.border_line_width = 1
legend.background_fill_alpha = 0.85
p.add_layout(legend)

# ---------------- y-axis label panel ----------------
# the row aligns this panel's frame with the main frame (canvas rows FT .. H-FB),
# so the y range is chosen so that data y == H - canvas row.
side = figure(width=SIDE_W, height=H, x_range=Range1d(0, SIDE_W), y_range=Range1d(FB, H - FT),
              x_axis_location=None, y_axis_location=None, output_backend="svg",
              toolbar_location=None, title=None,
              min_border_left=0, min_border_right=0, min_border_top=0, min_border_bottom=0)
side.grid.visible = False
side.outline_line_color = None
side.background_fill_color = "white"
side.border_fill_color = "white"

top_x = [16, 16, 33, 16, 16, 33, 33, 16]          # x of the glyph-top line of each piece
adv = [101.5, 22.5, 16.0, 13.0, 22.5, 15.5, 65.0, 14.0]  # advance along the label (px)
start_y = H - 555
ys, pos = [], start_y
for a in adv:
    ys.append(pos)
    pos += a
ysrc = ColumnDataSource(dict(x=top_x, y=ys, t=ylab_text, fs=ylab_size, st=ylab_style))
side.text(x="x", y="y", text="t", source=ysrc, angle=math.pi / 2, text_align="left",
          text_baseline="top", text_font=value(FONT), text_font_size="fs",
          text_font_style="st", text_color="black")

layout = row(side, p, spacing=0)
open("out.html", "w").write(file_html(layout, INLINE))
